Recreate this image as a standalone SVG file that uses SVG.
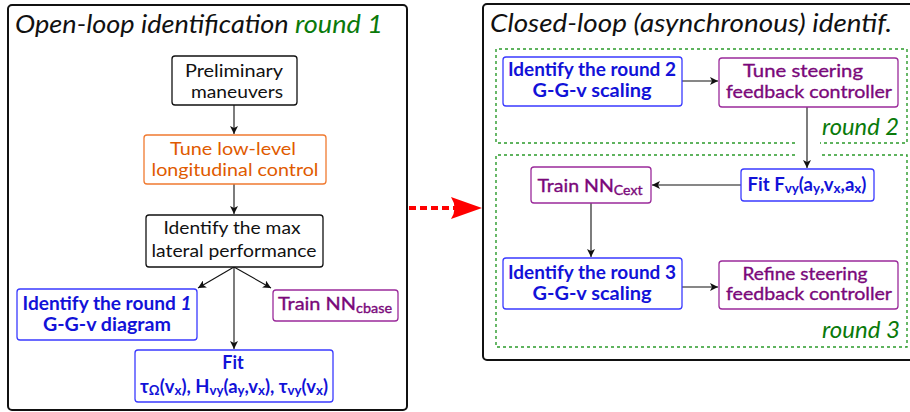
<svg xmlns="http://www.w3.org/2000/svg" width="910" height="412" viewBox="0 0 910 412">
<defs>
<style>
text{font-family:Lato,"Open Sans","DejaVu Sans",sans-serif;font-size:18px;text-anchor:middle}
.panel{fill:#fff;stroke:#111;stroke-width:2}
.n{fill:#fff;stroke-width:1.3}
.k{stroke:#111}
.kt{fill:#111}
.b{stroke:#3a3aff}
.bt{fill:#1212d8;font-weight:bold}
.p{stroke:#9a2a9a}
.pt{fill:#7a087a;stroke:#7a087a;stroke-width:0.35}
.o{stroke:#f07a30}
.ot{fill:#e05a00}
.title{font-size:25px;font-style:italic;text-anchor:start;fill:#111}
.g{fill:#0a7a0a;font-style:italic}
.rnd{fill:none;stroke:#2a9a2a;stroke-width:1.4;stroke-dasharray:3 3}
.c{fill:none;stroke:#111;stroke-width:1.1;marker-end:url(#ah)}
.sub{font-size:13px}
</style>
<marker id="ah" markerWidth="10" markerHeight="8" refX="8" refY="4" orient="auto" markerUnits="userSpaceOnUse">
<path d="M0,0 L8,4 L0,8 L2,4 Z" fill="#111"/>
</marker>
</defs>

<g id="panel-open">
<rect class="panel" x="8" y="5" width="399" height="405" rx="4"/>
<text class="title" x="15" y="33" textLength="368" lengthAdjust="spacingAndGlyphs">Open-loop identification <tspan fill="#0a7a0a">round 1</tspan></text>
</g>

<g id="panel-closed">
<rect class="panel" x="483" y="4" width="432" height="356" rx="4"/>
<text class="title" x="490" y="32" textLength="402" lengthAdjust="spacingAndGlyphs">Closed-loop (asynchronous) identif.</text>
</g>

<g id="round2">
<path class="rnd" d="M795,143 H496 V49 H907 V143 H820"/>
<text class="g" x="899" y="135" style="text-anchor:end;font-size:24px" textLength="77" lengthAdjust="spacingAndGlyphs">round 2</text>
</g>
<g id="round3">
<path class="rnd" d="M795,155 H496 V347 H907 V155 H820"/>
<text class="g" x="900" y="338" style="text-anchor:end;font-size:24px" textLength="78" lengthAdjust="spacingAndGlyphs">round 3</text>
</g>

<g id="connectors">
<path class="c" d="M234,105 V134"/>
<path class="c" d="M234,184 V214"/>
<path class="c" d="M234,267 L198,288"/>
<path class="c" d="M234,267 L271,288"/>
<path class="c" d="M234,267 V349"/>
<path class="c" d="M682,81 H718"/>
<path class="c" d="M807,107 V168"/>
<path class="c" d="M741,185 H652"/>
<path class="c" d="M591,203 V257"/>
<path class="c" d="M682,287 H718"/>
<line x1="409" y1="208" x2="456" y2="208" stroke="#ff0000" stroke-width="4" stroke-dasharray="7 4"/>
<path d="M482,208 L451,197 Q458,208 451,219 Z" fill="#ff0000"/>
</g>

<g id="prelim">
<rect class="n k" x="172" y="56" width="125" height="49" rx="3"/>
<text class="kt" x="234" y="77" textLength="98" lengthAdjust="spacingAndGlyphs">Preliminary</text>
<text class="kt" x="237" y="98" textLength="92" lengthAdjust="spacingAndGlyphs">maneuvers</text>
</g>

<g id="tune-long">
<rect class="n o" x="144" y="135" width="182" height="49" rx="3"/>
<text class="ot" x="233" y="155" textLength="126" lengthAdjust="spacingAndGlyphs">Tune low-level</text>
<text class="ot" x="235" y="176" textLength="167" lengthAdjust="spacingAndGlyphs">longitudinal control</text>
</g>

<g id="max-lat">
<rect class="n k" x="146" y="215" width="177" height="52" rx="3"/>
<text class="kt" x="232" y="234" textLength="137" lengthAdjust="spacingAndGlyphs">Identify the max</text>
<text class="kt" x="234" y="257" textLength="165" lengthAdjust="spacingAndGlyphs">lateral performance</text>
</g>

<g id="ggv1">
<rect class="n b" x="17" y="289" width="180" height="51" rx="3"/>
<text class="bt" x="107" y="310" textLength="169" lengthAdjust="spacingAndGlyphs">Identify the round <tspan font-style="italic">1</tspan></text>
<text class="bt" x="107" y="331" textLength="128" lengthAdjust="spacingAndGlyphs">G-G-v diagram</text>
</g>

<g id="nn-cbase">
<rect class="n p" x="273" y="290" width="125" height="31" rx="3"/>
<text class="pt" x="335" y="310" textLength="114" lengthAdjust="spacingAndGlyphs">Train NN<tspan class="sub" dy="3">cbase</tspan></text>
</g>

<g id="fit1">
<rect class="n b" x="135" y="350" width="198" height="52" rx="3"/>
<text class="bt" x="233" y="369">Fit</text>
<text class="bt" x="234" y="393" textLength="188" lengthAdjust="spacingAndGlyphs">τ<tspan class="sub" dy="2">Ω</tspan><tspan dy="-2">(v</tspan><tspan class="sub" dy="2">x</tspan><tspan dy="-2">), H</tspan><tspan class="sub" dy="2">vy</tspan><tspan dy="-2">(a</tspan><tspan class="sub" dy="2">y</tspan><tspan dy="-2">,v</tspan><tspan class="sub" dy="2">x</tspan><tspan dy="-2">), τ</tspan><tspan class="sub" dy="2">vy</tspan><tspan dy="-2">(v</tspan><tspan class="sub" dy="2">x</tspan><tspan dy="-2">)</tspan></text>
</g>

<g id="ggv2">
<rect class="n b" x="503" y="57" width="179" height="49" rx="3"/>
<text class="bt" x="592" y="76" textLength="168" lengthAdjust="spacingAndGlyphs">Identify the round 2</text>
<text class="bt" x="592" y="97" textLength="119" lengthAdjust="spacingAndGlyphs">G-G-v scaling</text>
</g>

<g id="tune-steer">
<rect class="n p" x="719" y="58" width="179" height="49" rx="3"/>
<text class="pt" x="803" y="77" textLength="120" lengthAdjust="spacingAndGlyphs">Tune steering</text>
<text class="pt" x="809" y="98" textLength="166" lengthAdjust="spacingAndGlyphs">feedback controller</text>
</g>

<g id="nn-cext">
<rect class="n p" x="531" y="167" width="120" height="36" rx="3"/>
<text class="pt" x="590" y="192" textLength="105" lengthAdjust="spacingAndGlyphs">Train NN<tspan class="sub" dy="3">Cext</tspan></text>
</g>

<g id="fit-f">
<rect class="n b" x="741" y="169" width="133" height="32" rx="3"/>
<text class="bt" x="807" y="191" textLength="119" lengthAdjust="spacingAndGlyphs">Fit F<tspan class="sub" dy="2">vy</tspan><tspan dy="-2">(a</tspan><tspan class="sub" dy="2">y</tspan><tspan dy="-2">,v</tspan><tspan class="sub" dy="2">x</tspan><tspan dy="-2">,a</tspan><tspan class="sub" dy="2">x</tspan><tspan dy="-2">)</tspan></text>
</g>

<g id="ggv3">
<rect class="n b" x="503" y="258" width="179" height="51" rx="3"/>
<text class="bt" x="592" y="279" textLength="168" lengthAdjust="spacingAndGlyphs">Identify the round 3</text>
<text class="bt" x="592" y="300" textLength="119" lengthAdjust="spacingAndGlyphs">G-G-v scaling</text>
</g>

<g id="refine-steer">
<rect class="n p" x="719" y="261" width="179" height="48" rx="3"/>
<text class="pt" x="805" y="280" textLength="125" lengthAdjust="spacingAndGlyphs">Refine steering</text>
<text class="pt" x="809" y="300" textLength="166" lengthAdjust="spacingAndGlyphs">feedback controller</text>
</g>
</svg>
